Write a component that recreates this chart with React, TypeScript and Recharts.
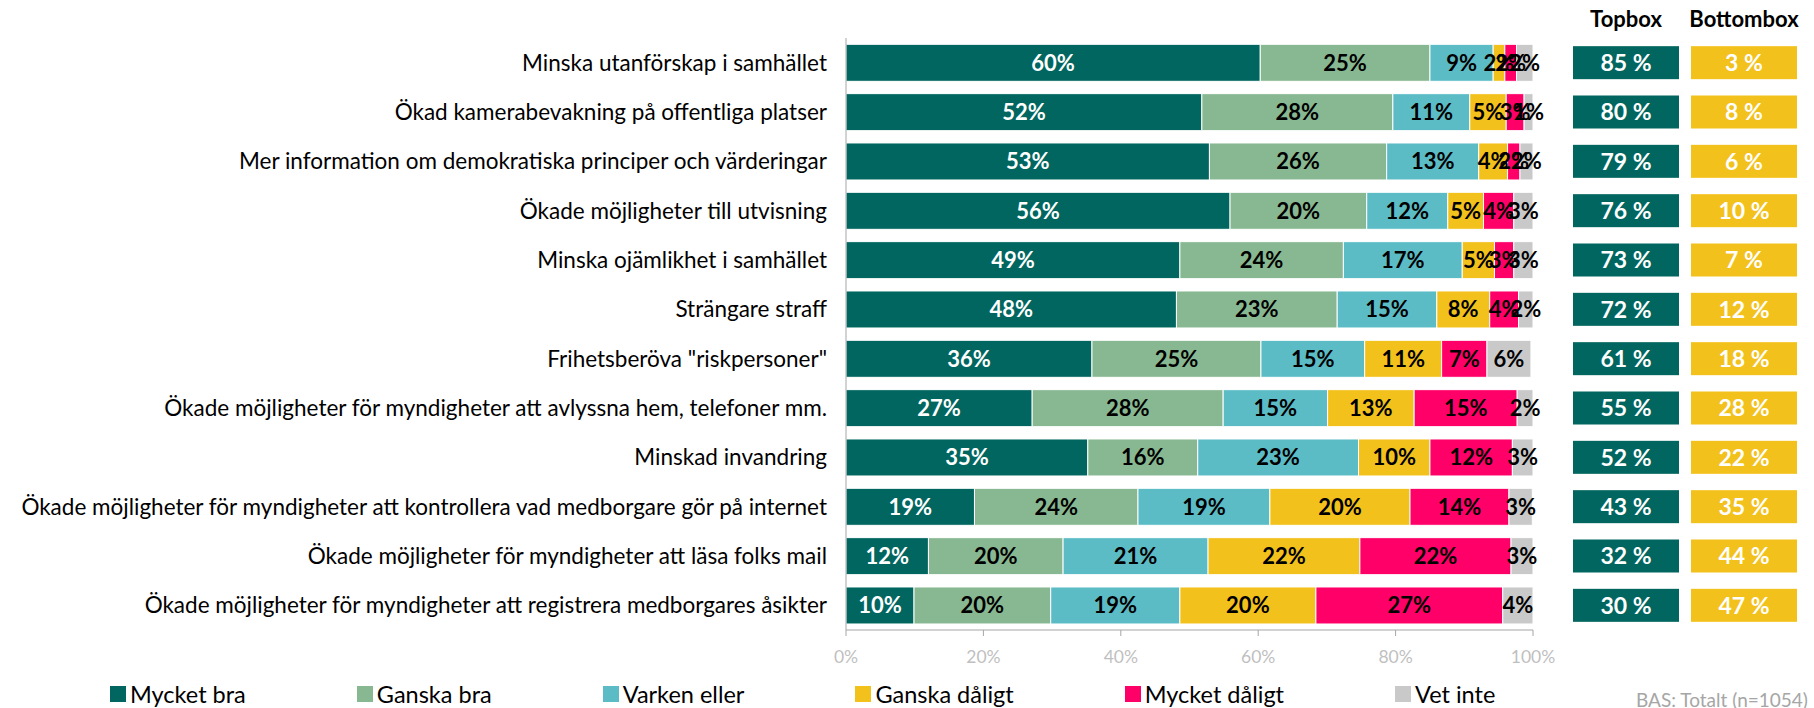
import React from 'react';
import { BarChart, Bar, XAxis, YAxis, Legend, LabelList } from 'recharts';

const categories = [
  'Minska utanförskap i samhället',
  'Ökad kamerabevakning på offentliga platser',
  'Mer information om demokratiska principer och värderingar',
  'Ökade möjligheter till utvisning',
  'Minska ojämlikhet i samhället',
  'Strängare straff',
  'Frihetsberöva "riskpersoner"',
  'Ökade möjligheter för myndigheter att avlyssna hem, telefoner mm.',
  'Minskad invandring',
  'Ökade möjligheter för myndigheter att kontrollera vad medborgare gör på internet',
  'Ökade möjligheter för myndigheter att läsa folks mail',
  'Ökade möjligheter för myndigheter att registrera medborgares åsikter',
];

const mycketBra = [60.3, 51.8, 52.9, 55.9, 48.6, 48.1, 35.8, 27.1, 35.2, 18.7, 12.0, 9.9];
const ganskaBra = [24.7, 27.8, 25.8, 19.9, 23.8, 23.4, 24.6, 27.8, 16.0, 23.8, 19.6, 19.9];
const varkenEller = [9.2, 11.2, 13.4, 11.8, 17.3, 14.5, 15.1, 15.2, 23.4, 19.2, 21.1, 18.8];
const ganskaDaligt = [1.7, 5.3, 4.2, 5.2, 4.7, 7.7, 11.2, 12.6, 10.4, 20.4, 22.1, 19.8];
const mycketDaligt = [1.7, 2.6, 1.8, 4.4, 2.8, 4.2, 6.6, 15.0, 12.0, 14.4, 22.0, 27.2];
const vetInte = [2.4, 1.3, 1.9, 2.8, 2.8, 2.1, 6.4, 2.3, 3.0, 3.4, 3.2, 4.4];

const topbox = [85, 80, 79, 76, 73, 72, 61, 55, 52, 43, 32, 30];
const bottombox = [3, 8, 6, 10, 7, 12, 18, 28, 22, 35, 44, 47];

const xTicks = [0, 20, 40, 60, 80, 100];

const seriesNames = ['Mycket bra', 'Ganska bra', 'Varken eller', 'Ganska dåligt', 'Mycket dåligt', 'Vet inte'];
const seriesKeys = ['mb', 'gb', 've', 'gd', 'md', 'vi'];
const seriesColors = ['#00665f', '#88b891', '#5cbcc6', '#f3c11c', '#ff0068', '#c9c9c9'];
const labelColors = ['#ffffff', '#000000', '#000000', '#000000', '#000000', '#000000'];

const data = categories.map((name, i) => ({
  name,
  mb: mycketBra[i],
  gb: ganskaBra[i],
  ve: varkenEller[i],
  gd: ganskaDaligt[i],
  md: mycketDaligt[i],
  vi: vetInte[i],
}));

const FONT = 'Lato, "Open Sans", sans-serif';

const RightTick = (props: any) => {
  const { x, y, payload } = props;
  const i = payload.index;
  const h = 33;
  return (
    <g>
      {i === 0 && (
        <g>
          <text x={x + 93} y={y - 36} textAnchor="middle" fontFamily={FONT} fontWeight={700} fontSize={22} fill="#000">Topbox</text>
          <text x={x + 211} y={y - 36} textAnchor="middle" fontFamily={FONT} fontWeight={700} fontSize={22} fill="#000">Bottombox</text>
        </g>
      )}
      <rect x={x + 40} y={y - h / 2} width={106} height={h} fill="#00665f" />
      <text x={x + 93} y={y} dy="0.36em" textAnchor="middle" fontFamily={FONT} fontWeight={700} fontSize={23} fill="#fff">{`${topbox[i]} %`}</text>
      <rect x={x + 158} y={y - h / 2} width={106} height={h} fill="#f3c11c" />
      <text x={x + 211} y={y} dy="0.36em" textAnchor="middle" fontFamily={FONT} fontWeight={700} fontSize={23} fill="#fff">{`${bottombox[i]} %`}</text>
    </g>
  );
};

const LegendContent = () => (
  <div style={{ position: 'relative', height: 28, width: 1814, fontFamily: FONT }}>
    <div style={{ display: 'flex', alignItems: 'center', paddingLeft: 110, height: 28 }}>
      {seriesNames.map((n, i) => (
        <div key={n} style={{ display: 'flex', alignItems: 'center', marginRight: 111 }}>
          <span style={{ display: 'inline-block', width: 16, height: 16, background: seriesColors[i], marginRight: 4 }} />
          <span style={{ fontSize: 23.5, color: '#000', lineHeight: '28px', whiteSpace: 'nowrap' }}>{n}</span>
        </div>
      ))}
    </div>
    <span style={{ position: 'absolute', left: 1636, top: 8, fontSize: 19, color: '#a6a6a6', whiteSpace: 'nowrap' }}>BAS: Totalt (n=1054)</span>
  </div>
);

const makeLabel = (color: string) => (props: any) => {
  const { x, y, width, height, value } = props;
  return (
    <text x={x + width / 2} y={y + height / 2} dy="0.36em" textAnchor="middle" fontFamily={FONT} fontWeight={700} fontSize={22} fill={color}>
      {`${Math.round(value)}%`}
    </text>
  );
};

export default function App() {
  return (
    <div style={{ position: 'absolute', left: 0, top: 0, width: 1814, height: 708, background: '#fff', overflow: 'hidden' }}>
      <BarChart
        width={1814}
        height={708}
        data={data}
        layout="vertical"
        margin={{ top: 38, right: 0, bottom: 0, left: 0 }}
        barCategoryGap="12.8%"
      >
        <XAxis
          type="number"
          domain={[0, 100]}
          ticks={xTicks}
          tickFormatter={(v: number) => `${v}%`}
          height={50}
          axisLine={{ stroke: '#a6a6a6' }}
          tickLine={{ stroke: '#a6a6a6' }}
          tickSize={6}
          tickMargin={15}
          tick={{ fill: '#bfbfbf', fontSize: 17.5, fontFamily: FONT }}
          allowDataOverflow
        />
        <YAxis
          yAxisId="left"
          type="category"
          dataKey="name"
          width={846}
          axisLine={{ stroke: '#a6a6a6' }}
          tickLine={false}
          tickSize={0}
          tickMargin={19}
          tick={{ fill: '#000', fontSize: 22.5, fontFamily: FONT }}
          interval={0}
        />
        <YAxis
          yAxisId="right"
          orientation="right"
          type="category"
          dataKey="name"
          width={281}
          axisLine={false}
          tickLine={false}
          tickSize={0}
          tickMargin={0}
          tick={<RightTick />}
          interval={0}
        />
        <Legend verticalAlign="bottom" align="left" content={<LegendContent />} wrapperStyle={{ left: 0, width: 1814 }} />
        {seriesKeys.map((k, i) => (
          <Bar
            key={k}
            dataKey={k}
            name={seriesNames[i]}
            stackId="a"
            yAxisId="left"
            fill={seriesColors[i]}
            stroke="#ffffff"
            strokeWidth={1}
            isAnimationActive={false}
          >
            <LabelList dataKey={k} content={makeLabel(labelColors[i])} />
          </Bar>
        ))}
      </BarChart>
    </div>
  );
}
